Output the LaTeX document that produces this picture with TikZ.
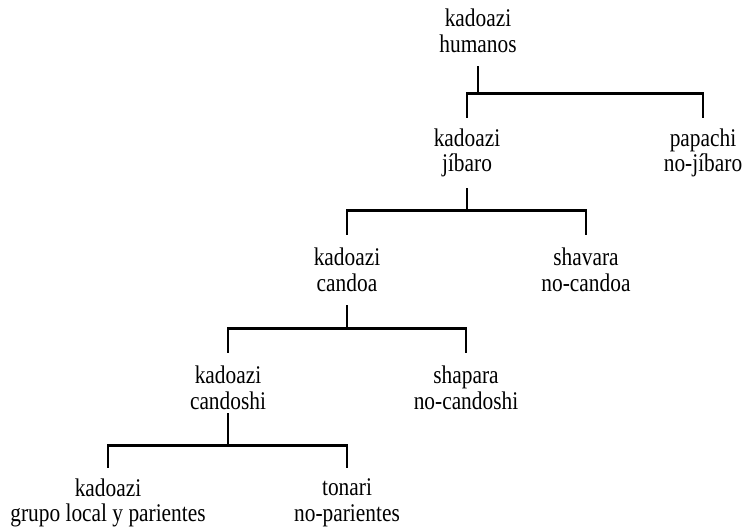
\documentclass[tikz,border=0pt]{standalone}
\usepackage{fontspec}
\setmainfont[FakeStretch=0.84]{Liberation Serif}
\usepackage{tikz}

\begin{document}
\begin{tikzpicture}[baseline=0,
    taxon/.style={align=center,inner ysep=0pt,minimum height=1.75cm,font=\fontsize{18.1}{18.3}\selectfont},
    branch/.style={line width=2pt}]
    \useasboundingbox (0,0) rectangle (18.675,13.15);
    \node[taxon] (hum) at (11.95,12.375) {kadoazi\\humanos};
    \node[taxon] (jib) at (11.675,9.325) {kadoazi\\jíbaro};
    \node[taxon] (pap) at (17.575,9.325) {papachi\\no-jíbaro};
    \node[taxon] (cdoa) at (8.675,6.4) {kadoazi\\candoa};
    \node[taxon] (shav) at (14.65,6.4) {shavara\\no-candoa};
    \node[taxon] (cshi) at (5.7,3.45) {kadoazi\\candoshi};
    \node[taxon] (shap) at (11.65,3.45) {shapara\\no-candoshi};
    \node[taxon] (grp) at (2.7,0.575) {kadoazi\\grupo local y parientes};
    \node[taxon] (ton) at (8.675,0.575) {tonari\\no-parientes};
    \draw[branch] (jib.north) -- ++(0,0.6) coordinate (b1) -| (pap.north);
    \draw[branch] (hum.south) -- (hum.south |- b1);
    \draw[branch] (cdoa.north) -- ++(0,0.6) coordinate (b2) -| (shav.north);
    \draw[branch] (jib.south) -- (jib.south |- b2);
    \draw[branch] (cshi.north) -- ++(0,0.6) coordinate (b3) -| (shap.north);
    \draw[branch] (cdoa.south) -- (cdoa.south |- b3);
    \draw[branch] (grp.north) -- ++(0,0.55) coordinate (b4) -| (ton.north);
    \draw[branch,shorten <=-0.25cm] (cshi.south) -- (cshi.south |- b4);
\end{tikzpicture}
\end{document}
